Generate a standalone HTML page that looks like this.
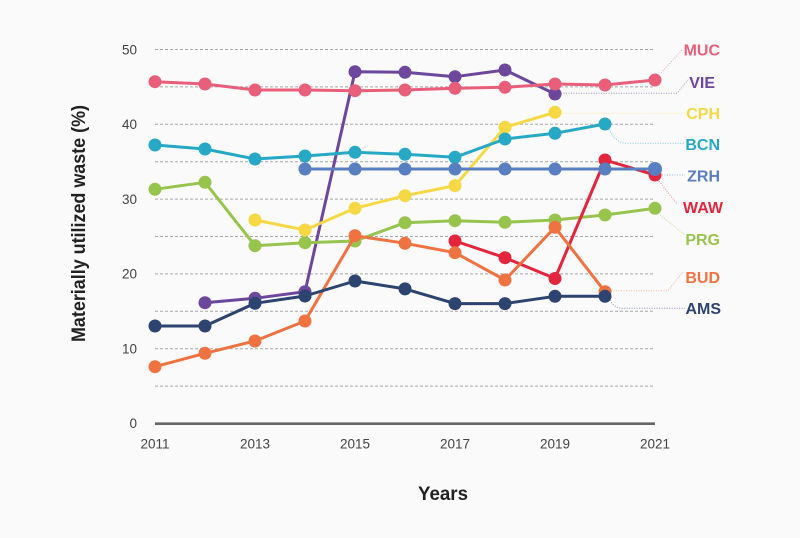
<!DOCTYPE html>
<html>
<head>
<meta charset="utf-8">
<style>
html,body{margin:0;padding:0;background:#fafafa;}
svg{display:block;}
text{font-family:"Liberation Sans",sans-serif;}
</style>
</head>
<body>
<svg width="800" height="538" viewBox="0 0 800 538" xmlns="http://www.w3.org/2000/svg">
<rect width="800" height="538" fill="#fafafa"/>
<!-- gridlines -->
<g stroke="#a8a8a8" stroke-width="1" stroke-dasharray="3,2">
<line x1="155" x2="655" y1="386.1" y2="386.1"/>
<line x1="155" x2="655" y1="348.7" y2="348.7"/>
<line x1="155" x2="655" y1="311.3" y2="311.3"/>
<line x1="155" x2="655" y1="273.9" y2="273.9"/>
<line x1="155" x2="655" y1="236.5" y2="236.5"/>
<line x1="155" x2="655" y1="199.1" y2="199.1"/>
<line x1="155" x2="655" y1="161.7" y2="161.7"/>
<line x1="155" x2="655" y1="124.3" y2="124.3"/>
<line x1="155" x2="655" y1="86.9" y2="86.9"/>
<line x1="155" x2="655" y1="49.5" y2="49.5"/>
</g>
<line x1="155" x2="655" y1="423.7" y2="423.7" stroke="#666" stroke-width="2.7"/>
<!-- y tick labels -->
<g font-size="13.5" fill="#444" text-anchor="end">
<text x="137" y="428">0</text>
<text x="137" y="353.5">10</text>
<text x="137" y="278.7">20</text>
<text x="137" y="203.9">30</text>
<text x="137" y="129.1">40</text>
<text x="137" y="54.5">50</text>
</g>
<!-- x tick labels -->
<g font-size="13.5" fill="#444" text-anchor="middle">
<text x="155" y="448.5">2011</text>
<text x="255" y="448.5">2013</text>
<text x="355" y="448.5">2015</text>
<text x="455" y="448.5">2017</text>
<text x="555" y="448.5">2019</text>
<text x="655" y="448.5">2021</text>
</g>
<!-- axis titles -->
<text transform="translate(85,223.5) rotate(-90)" font-size="19" font-weight="bold" fill="#222" text-anchor="middle" textLength="237" lengthAdjust="spacingAndGlyphs">Materially utilized waste (%)</text>
<text x="443" y="500" font-size="19" font-weight="bold" fill="#222" text-anchor="middle" textLength="50" lengthAdjust="spacingAndGlyphs">Years</text>

<!-- connectors -->
<g fill="none" stroke-width="1" stroke-dasharray="1,1.5" opacity="0.55">
<path d="M661,73 L682,50" stroke="#e95f7a"/>
<path d="M561,93.3 L677,93.3 L688,80" stroke="#6d479c"/>
<path d="M561,113.3 L686,113.3" stroke="#f6d845"/>
<path d="M609,129 Q615,143 627,143.3 L685,143.3" stroke="#27a9c6"/>
<path d="M662,175 L685,175" stroke="#5a7fc1"/>
<path d="M659,181 L677,204" stroke="#e3263e"/>
<path d="M660,215 L685,235" stroke="#97c44d"/>
<path d="M611,290.7 L668,290.7 L683,271.7" stroke="#ef7241"/>
<path d="M610,300 Q614,308 622,308.3 L685,308.3" stroke="#2d4470"/>
</g>

<!-- series -->
<g stroke-width="3" fill="none" stroke-linejoin="round">
<!-- VIE -->
<g stroke="#6d479c">
<polyline points="205,302.7 255,298.3 305,291.7 355,71.7 405,72.3 455,76.7 505,70 555,94"/>
</g>
<g fill="#6d479c">
<circle cx="205" cy="302.7" r="6.5"/><circle cx="255" cy="298.3" r="6.5"/><circle cx="305" cy="291.7" r="6.5"/><circle cx="355" cy="71.7" r="6.5"/><circle cx="405" cy="72.3" r="6.5"/><circle cx="455" cy="76.7" r="6.5"/><circle cx="505" cy="70" r="6.5"/><circle cx="555" cy="94" r="6.5"/>
</g>
<!-- MUC -->
<polyline stroke="#e95f7a" points="155,81.7 205,84 255,90 305,90 355,90.7 405,90 455,88.3 505,87.3 555,84 605,85 655,80"/>
<g fill="#e95f7a">
<circle cx="155" cy="81.7" r="6.5"/><circle cx="205" cy="84" r="6.5"/><circle cx="255" cy="90" r="6.5"/><circle cx="305" cy="90" r="6.5"/><circle cx="355" cy="90.7" r="6.5"/><circle cx="405" cy="90" r="6.5"/><circle cx="455" cy="88.3" r="6.5"/><circle cx="505" cy="87.3" r="6.5"/><circle cx="555" cy="84" r="6.5"/><circle cx="605" cy="85" r="6.5"/><circle cx="655" cy="80" r="6.5"/>
</g>
<!-- PRG -->
<polyline stroke="#97c44d" points="155,189.3 205,182.3 255,245.7 305,242.7 355,241 405,222.7 455,220.7 505,222.3 555,220 605,215 655,208.3"/>
<g fill="#97c44d">
<circle cx="155" cy="189.3" r="6.5"/><circle cx="205" cy="182.3" r="6.5"/><circle cx="255" cy="245.7" r="6.5"/><circle cx="305" cy="242.7" r="6.5"/><circle cx="355" cy="241" r="6.5"/><circle cx="405" cy="222.7" r="6.5"/><circle cx="455" cy="220.7" r="6.5"/><circle cx="505" cy="222.3" r="6.5"/><circle cx="555" cy="220" r="6.5"/><circle cx="605" cy="215" r="6.5"/><circle cx="655" cy="208.3" r="6.5"/>
</g>
<!-- CPH -->
<polyline stroke="#f6d845" points="255,220 305,230 355,208.3 405,195.7 455,185.7 505,127.3 555,112.3"/>
<g fill="#f6d845">
<circle cx="255" cy="220" r="6.5"/><circle cx="305" cy="230" r="6.5"/><circle cx="355" cy="208.3" r="6.5"/><circle cx="405" cy="195.7" r="6.5"/><circle cx="455" cy="185.7" r="6.5"/><circle cx="505" cy="127.3" r="6.5"/><circle cx="555" cy="112.3" r="6.5"/>
</g>
<!-- BCN -->
<polyline stroke="#27a9c6" points="155,145 205,149 255,159 305,156 355,152.3 405,154.3 455,157.3 505,139 555,133.3 605,124"/>
<g fill="#27a9c6">
<circle cx="155" cy="145" r="6.5"/><circle cx="205" cy="149" r="6.5"/><circle cx="255" cy="159" r="6.5"/><circle cx="305" cy="156" r="6.5"/><circle cx="355" cy="152.3" r="6.5"/><circle cx="405" cy="154.3" r="6.5"/><circle cx="455" cy="157.3" r="6.5"/><circle cx="505" cy="139" r="6.5"/><circle cx="555" cy="133.3" r="6.5"/><circle cx="605" cy="124" r="6.5"/>
</g>
<!-- WAW -->
<polyline stroke="#e3263e" points="455,241 505,257.7 555,278.5 605,160 655,175"/>
<g fill="#e3263e">
<circle cx="455" cy="241" r="6.5"/><circle cx="505" cy="257.7" r="6.5"/><circle cx="555" cy="278.5" r="6.5"/><circle cx="605" cy="160" r="6.5"/><circle cx="655" cy="175" r="6.5"/>
</g>
<!-- ZRH -->
<polyline stroke="#5a7fc1" points="305,169 355,169 405,169 455,169 505,169 555,169 605,169 655,169"/>
<g fill="#5a7fc1">
<circle cx="305" cy="169" r="6.5"/><circle cx="355" cy="169" r="6.5"/><circle cx="405" cy="169" r="6.5"/><circle cx="455" cy="169" r="6.5"/><circle cx="505" cy="169" r="6.5"/><circle cx="555" cy="169" r="6.5"/><circle cx="605" cy="169" r="6.5"/><circle cx="655" cy="169" r="7"/>
</g>
<!-- BUD -->
<polyline stroke="#ef7241" points="155,366.7 205,353.3 255,341 305,321 355,235.7 405,243.3 455,252.7 505,280 555,227.3 605,291.7"/>
<g fill="#ef7241">
<circle cx="155" cy="366.7" r="6.5"/><circle cx="205" cy="353.3" r="6.5"/><circle cx="255" cy="341" r="6.5"/><circle cx="305" cy="321" r="6.5"/><circle cx="355" cy="235.7" r="6.5"/><circle cx="405" cy="243.3" r="6.5"/><circle cx="455" cy="252.7" r="6.5"/><circle cx="505" cy="280" r="6.5"/><circle cx="555" cy="227.3" r="6.5"/><circle cx="605" cy="291.7" r="6.5"/>
</g>
<!-- AMS -->
<polyline stroke="#2d4470" points="155,326 205,326 255,303.3 305,296 355,281 405,288.9 455,303.6 505,303.6 555,296.3 605,296.3"/>
<g fill="#2d4470">
<circle cx="155" cy="326" r="6.5"/><circle cx="205" cy="326" r="6.5"/><circle cx="255" cy="303.3" r="6.5"/><circle cx="305" cy="296" r="6.5"/><circle cx="355" cy="281" r="6.5"/><circle cx="405" cy="288.9" r="6.5"/><circle cx="455" cy="303.6" r="6.5"/><circle cx="505" cy="303.6" r="6.5"/><circle cx="555" cy="296.3" r="6.5"/><circle cx="605" cy="296.3" r="6.5"/>
</g>
</g>

<!-- labels -->
<g font-size="16" font-weight="bold" text-anchor="end">
<text x="720" y="55.7" fill="#e95f7a">MUC</text>
<text x="715" y="88" fill="#6d479c">VIE</text>
<text x="720" y="119" fill="#f6d845">CPH</text>
<text x="720" y="150" fill="#27a9c6">BCN</text>
<text x="720" y="181.5" fill="#5a7fc1">ZRH</text>
<text x="723" y="213" fill="#e3263e">WAW</text>
<text x="720" y="245" fill="#97c44d">PRG</text>
<text x="720" y="283" fill="#ef7241">BUD</text>
<text x="721" y="314" fill="#2d4470">AMS</text>
</g>
</svg>
</body>
</html>
